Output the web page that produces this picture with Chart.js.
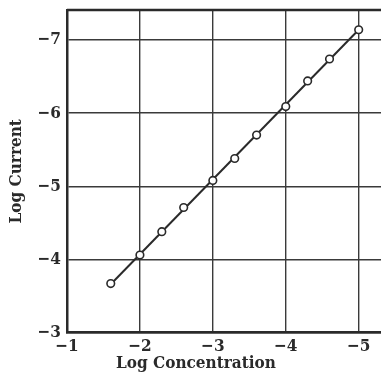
<!DOCTYPE html>
<html><head><meta charset="utf-8">
<script src="https://cdn.jsdelivr.net/npm/chart.js@4"></script>
<style>
html,body{margin:0;padding:0;background:#fff;overflow:hidden;width:381px;height:374px}
#wrap{position:relative;width:392px;height:374px}
</style></head>
<body><div id="wrap"><canvas id="c" width="392" height="374"></canvas></div>
<script>
const logConcentration = [-1.6, -2.0, -2.3, -2.6, -3.0, -3.3, -3.6, -4.0, -4.3, -4.6, -5.0];
const logCurrent = [-3.67, -4.06, -4.38, -4.71, -5.08, -5.38, -5.70, -6.09, -6.44, -6.74, -7.14];
const fitLineX = [-1.6, -5.0];
const fitLineY = [-3.66, -7.14];
const xTicks = [-1, -2, -3, -4, -5];
const yTicks = [-3, -4, -5, -6, -7];
const xTitle = 'Log Concentration';
const yTitle = 'Log Current';

const ink = '#2a2a2a';
const fam = '"DejaVu Serif Condensed", "DejaVu Serif", serif';
const fmt = v => (v < 0 ? '\u2212' + Math.abs(v) : String(v));
Chart.defaults.font.family = fam;
Chart.defaults.color = ink;

const framePlugin = {
  id: 'frame',
  beforeDatasetsDraw(chart) {
    const {ctx, chartArea: a} = chart;
    ctx.save();
    ctx.strokeStyle = ink;
    ctx.lineWidth = 2.5;
    ctx.beginPath();
    ctx.moveTo(a.left, a.top);
    ctx.lineTo(a.right + 2, a.top);
    ctx.stroke();
    ctx.restore();
  }
};

const noPad = ax => { ax.paddingLeft = 0; ax.paddingRight = 0; ax.paddingTop = 0; ax.paddingBottom = 0; };

new Chart(document.getElementById('c'), {
  type: 'scatter',
  data: {
    datasets: [
      {
        data: fitLineX.map((x, i) => ({x, y: fitLineY[i]})),
        showLine: true,
        borderColor: ink,
        borderWidth: 2,
        pointRadius: 0,
        order: 2
      },
      {
        data: logConcentration.map((x, i) => ({x, y: logCurrent[i]})),
        showLine: false,
        pointRadius: 3.8,
        pointBackgroundColor: '#fff',
        pointBorderColor: ink,
        pointBorderWidth: 1.6,
        order: 1
      }
    ]
  },
  options: {
    responsive: false,
    animation: false,
    layout: {padding: {left: 0, right: 0, top: 10, bottom: 0}},
    plugins: {
      legend: {display: false},
      tooltip: {enabled: false},
      title: {
        display: true,
        text: xTitle,
        position: 'bottom',
        color: ink,
        font: {size: 17, weight: 'bold', family: fam},
        padding: {top: 0, bottom: 0}
      }
    },
    scales: {
      x: {
        type: 'linear',
        reverse: true,
        min: -5.38,
        max: -1,
        afterBuildTicks: ax => { ax.ticks = xTicks.map(v => ({value: v})); },
        afterFit: ax => { ax.height = 21; noPad(ax); },
        ticks: {
          callback: v => fmt(v),
          maxRotation: 0,
          padding: 4,
          color: ink,
          font: {size: 17, weight: 'bold'}
        },
        grid: {color: '#3a3a3a', lineWidth: 1.4, drawTicks: false},
        border: {display: true, color: ink, width: 2.5}
      },
      y: {
        type: 'linear',
        reverse: true,
        min: -7.41,
        max: -3,
        afterBuildTicks: ax => { ax.ticks = yTicks.map(v => ({value: v})); },
        afterFit: ax => { ax.width = 67; noPad(ax); },
        ticks: {
          callback: v => fmt(v),
          padding: 6,
          color: ink,
          font: {size: 17, weight: 'bold'}
        },
        title: {
          display: true,
          text: yTitle,
          color: ink,
          font: {size: 17, weight: 'bold'},
          padding: {top: 6, bottom: 0}
        },
        grid: {color: '#3a3a3a', lineWidth: 1.4, drawTicks: false},
        border: {display: true, color: ink, width: 2.5}
      }
    }
  },
  plugins: [framePlugin]
});
</script>
</body></html>
